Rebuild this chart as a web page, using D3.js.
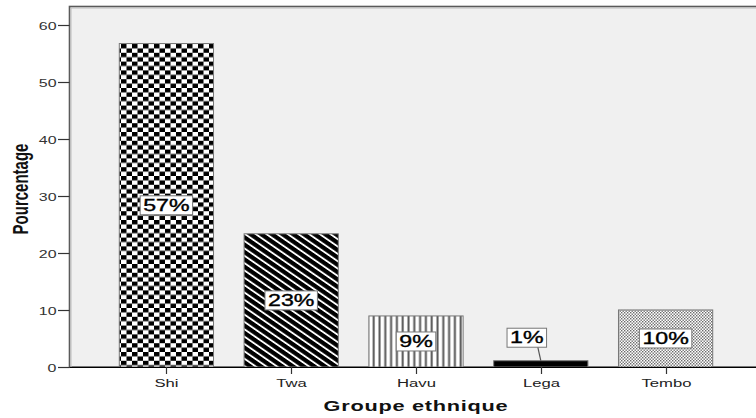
<!DOCTYPE html>
<html><head><meta charset="utf-8">
<script src="https://cdn.jsdelivr.net/npm/d3@7"></script>
<style>body{margin:0;background:#fff}svg{display:block}text{font-family:"Liberation Sans",Arial,sans-serif}</style>
</head><body><svg id="c" width="756" height="418"></svg>
<script>
const categories = ["Shi","Twa","Havu","Lega","Tembo"];
const values = [56.7, 23.35, 8.95, 1.1, 10.0];
const labels = ["57%","23%","9%","1%","10%"];
const yTicks = [0,10,20,30,40,50,60];
const patterns = ["checker","diag","vert","solid","dots"];
const xTitle = "Groupe ethnique";
const yTitle = "Pourcentage";

const SX = 1.45; // horizontal stretch of the original picture
const svg = d3.select("#c");
const W = 756, H = 418;
const plot = {left:69.5, top:6.5, bottom:367};

const x = d3.scaleBand().domain(categories).range([104, 728]).paddingInner(0.245).paddingOuter(0.1225);
const y = d3.scaleLinear().domain([0, 63.2]).range([plot.bottom, plot.top]);

// patterns
const defs = svg.append("defs");
let p = defs.append("pattern").attr("id","checker").attr("patternUnits","userSpaceOnUse")
  .attr("width",11).attr("height",8.8);
p.append("rect").attr("width",11).attr("height",8.8).attr("fill","#fff");
p.append("rect").attr("x",0).attr("y",0).attr("width",5.5).attr("height",4.4).attr("fill","#000");
p.append("rect").attr("x",5.5).attr("y",4.4).attr("width",5.5).attr("height",4.4).attr("fill","#000");

p = defs.append("pattern").attr("id","diag").attr("patternUnits","userSpaceOnUse")
  .attr("width",10).attr("height",5.2).attr("patternTransform",`scale(${SX},1) rotate(45)`);
p.append("rect").attr("width",10).attr("height",5.2).attr("fill","#fff");
p.append("rect").attr("width",10).attr("height",3.6).attr("fill","#000");

p = defs.append("pattern").attr("id","vert").attr("patternUnits","userSpaceOnUse")
  .attr("width",5.8).attr("height",10);
p.append("rect").attr("width",5.8).attr("height",10).attr("fill","#fff");
p.append("rect").attr("x",1.5).attr("width",2).attr("height",10).attr("fill","#555");

p = defs.append("pattern").attr("id","dots").attr("patternUnits","userSpaceOnUse")
  .attr("width",3).attr("height",3);
p.append("rect").attr("width",3).attr("height",3).attr("fill","#fff");
p.append("rect").attr("x",0).attr("y",0).attr("width",1.4).attr("height",1.4).attr("fill","#6a6a6a");
p.append("rect").attr("x",1.5).attr("y",1.5).attr("width",1.4).attr("height",1.4).attr("fill","#6a6a6a");

// plot background & frame
svg.append("rect").attr("x",plot.left).attr("y",plot.top).attr("width",W-plot.left+5).attr("height",plot.bottom-plot.top)
  .attr("fill","#f0f0f0").attr("stroke","#5a5a5a").attr("stroke-width",1.6);
svg.append("line").attr("x1",plot.left+1.5).attr("x2",W).attr("y1",plot.top+1.5).attr("y2",plot.top+1.5).attr("stroke","#bbb");
svg.append("line").attr("x1",plot.left+1.5).attr("x2",plot.left+1.5).attr("y1",plot.top+1.5).attr("y2",plot.bottom).attr("stroke","#bbb");

// bars
svg.append("g").selectAll("rect").data(categories).join("rect")
  .attr("x",d=>x(d)).attr("width",x.bandwidth())
  .attr("y",(d,i)=>y(values[i])).attr("height",(d,i)=>y(0)-y(values[i]))
  .attr("fill",(d,i)=>patterns[i]==="solid"?"#000":`url(#${patterns[i]})`)
  .attr("stroke","#777").attr("stroke-width",1);

// baseline
svg.append("line").attr("x1",plot.left).attr("x2",W).attr("y1",plot.bottom+0.5).attr("y2",plot.bottom+0.5).attr("stroke","#000").attr("stroke-width",1.2);

// y axis ticks & labels
const yg = svg.append("g");
yTicks.forEach(t=>{
  const yy = Math.round(y(t))+0.5;
  yg.append("line").attr("x1",58).attr("x2",plot.left).attr("y1",yy).attr("y2",yy).attr("stroke","#333").attr("stroke-width",1.2);
  yg.append("text").attr("transform",`translate(56.5,${yy+4}) scale(${SX},1)`).attr("text-anchor","end")
    .attr("font-size",11).attr("fill","#333").text(t);
});

// x axis ticks & labels
const xg = svg.append("g");
categories.forEach(c=>{
  const cx = Math.round(x(c)+x.bandwidth()/2)+0.5;
  xg.append("line").attr("x1",cx).attr("x2",cx).attr("y1",plot.bottom).attr("y2",plot.bottom+7).attr("stroke","#333").attr("stroke-width",1.2);
  xg.append("text").attr("transform",`translate(${cx},${plot.bottom+20}) scale(${SX},1)`).attr("text-anchor","middle")
    .attr("font-size",11.5).attr("fill","#222").text(c);
});

// titles
svg.append("text").attr("transform",`translate(416,411) scale(${SX},1)`).attr("text-anchor","middle")
  .attr("font-size",15).attr("font-weight","bold").attr("fill","#111").attr("letter-spacing",0.5).text(xTitle);
svg.append("text").attr("transform",`translate(28,189) rotate(-90) scale(1,${SX})`).attr("text-anchor","middle")
  .attr("font-size",15).attr("font-weight","bold").attr("fill","#111").text(yTitle);

// value labels
const lg = svg.append("g");
categories.forEach((c,i)=>{
  const cx = x(c)+x.bandwidth()/2;
  const top = y(values[i]);
  const barH = y(0)-top;
  let lx = cx, ly = top + barH/2;
  const g = lg.append("g");
  const t = g.append("text").attr("font-size",16).attr("fill","#000").attr("stroke","#000").attr("stroke-width",0.35)
    .attr("text-anchor","middle").text(labels[i]);
  const tw = t.node().getComputedTextLength()*SX;
  const bw = tw+6, bh = 19;
  if (barH < bh+4) {
    lx = cx - 14; ly = top - 23;
    lg.insert("line",":first-child").attr("x1",lx+11).attr("y1",ly+bh/2).attr("x2",cx).attr("y2",top).attr("stroke","#555").attr("stroke-width",1.2);
  }
  g.insert("rect","text").attr("x",lx-bw/2).attr("y",ly-bh/2).attr("width",bw).attr("height",bh)
    .attr("fill","#fff").attr("stroke","#777").attr("stroke-width",1);
  t.attr("transform",`translate(${lx},${ly+5.5}) scale(${SX},1)`);
});
</script></body></html>
